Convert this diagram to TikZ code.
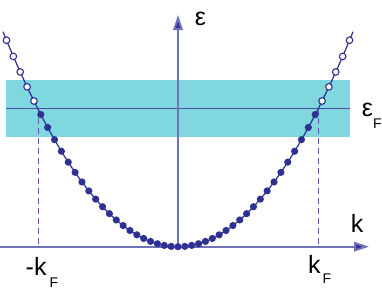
\documentclass[tikz,border=0pt]{standalone}
\usepackage{fontspec}
\setmainfont{Liberation Sans}
\usetikzlibrary{arrows.meta}
\definecolor{dotblue}{HTML}{2E3192}
\definecolor{axisblue}{HTML}{6F73B6}
\definecolor{dashblue}{HTML}{5A5EAE}
\definecolor{fermiblue}{HTML}{4A4EA6}
\definecolor{bandcyan}{HTML}{80D7DF}
\tikzset{
  axisline/.style={draw=axisblue, line width=2pt, -{Triangle[length=15pt,width=9.5pt,fill=dotblue]}},
  dashline/.style={draw=dashblue, line width=1.5pt, dash pattern=on 6pt off 4pt},
  curveline/.style={draw=dotblue, line width=1.2pt},
  fdot/.style={fill=dotblue, draw=none},
  odot/.style={fill=white, draw=dotblue, line width=1.1pt},
  lbl/.style={inner sep=0pt, font=\fontsize{25}{25}\selectfont, text=black},
  sub/.style={inner sep=0pt, font=\fontsize{14}{14}\selectfont, text=black}
}
\begin{document}
\begin{tikzpicture}[x=1pt,y=-1pt]
\useasboundingbox (0,0) rectangle (382,293);
% band
\fill[bandcyan] (6,80) rectangle (350,137);
% coordinates
\coordinate (O) at (178,246.7);
\coordinate (xend) at (369,246.7);
\coordinate (xstart) at (0,246.7);
\coordinate (ytop) at (178,15);
\coordinate (bandL) at (6,108.3);
\coordinate (bandR) at (350,108.3);
\coordinate (kFl) at (38.3,108.3);
\coordinate (kFr) at (318.3,108.3);
\coordinate (kFlb) at (38.3,246.7);
\coordinate (kFrb) at (318.3,246.7);
% fermi line
\draw[draw=fermiblue, line width=1.5pt] (bandL) -- (bandR);
% dashed lines
\draw[dashline] (kFl) -- (kFlb);
\draw[dashline] (kFr) -- (kFrb);
% axes
\draw[axisline] (xstart) -- (xend);
\draw[axisline] (O) -- (ytop);
% parabola line
\draw[curveline, domain=-17.5:17.5, samples=120, variable=\t] plot ({178+10*\t},{246.7-0.702*\t*\t});
% dots
\foreach \n in {-25,...,25}{
  \pgfmathsetmacro{\dx}{6.86*\n}
  \pgfmathsetmacro{\dy}{246.7-0.702*(\dx/10)*(\dx/10)}
  \ifnum\n<-20
    \draw[odot] ({178+\dx},\dy) circle (3.3pt);
  \else\ifnum\n>20
    \draw[odot] ({178+\dx},\dy) circle (3.3pt);
  \else
    \fill[fdot] ({178+\dx},\dy) circle (3.6pt);
  \fi\fi
}
% labels
\node[lbl] (eps) at (200.5,19) {ε};
\node[lbl, anchor=base] (k) at (357,232) {k};
\node[lbl, anchor=base] (epsF) at (367.5,116.7) {ε};
\node[sub, anchor=base] (epsFsub) at (377.5,128) {F};
\node[lbl, anchor=base east] (mkF) at (46.7,275) {-k};
\node[sub, anchor=base west] (mkFsub) at (49.5,287) {F};
\node[lbl, anchor=base east] (kF) at (320.7,273.3) {k};
\node[sub, anchor=base west] (kFsub) at (322.5,283.3) {F};
\end{tikzpicture}
\end{document}
